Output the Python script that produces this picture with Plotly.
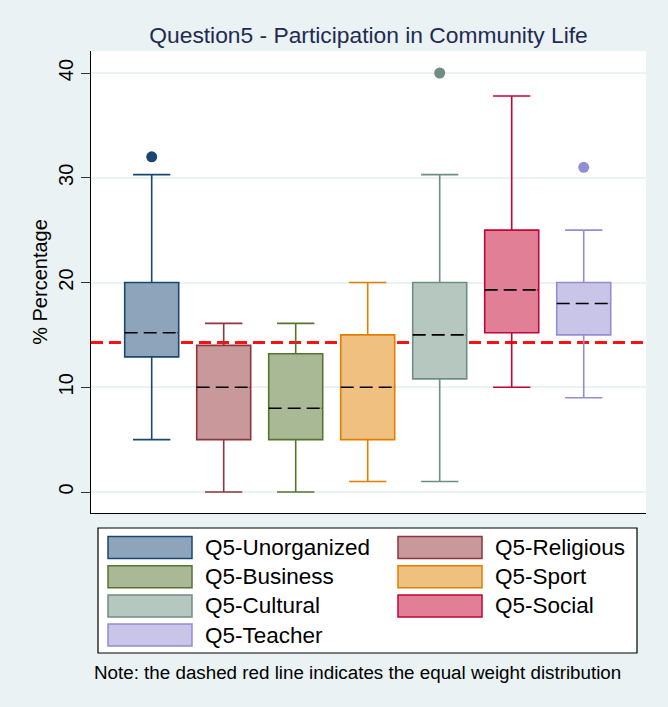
import plotly.graph_objects as go

# ---------------- data ----------------
categories = ["Q5-Unorganized", "Q5-Religious", "Q5-Business", "Q5-Sport",
              "Q5-Cultural", "Q5-Social", "Q5-Teacher"]
q1 = [12.9, 5.0, 5.0, 5.0, 10.8, 15.2, 15.0]
median = [15.2, 10.0, 8.0, 10.0, 15.0, 19.3, 18.0]
q3 = [20.0, 14.0, 13.2, 15.0, 20.0, 25.0, 20.0]
lower_whisker = [5.0, 0.0, 0.0, 1.0, 1.0, 10.0, 9.0]
upper_whisker = [30.3, 16.1, 16.1, 20.0, 30.3, 37.8, 25.0]
outliers = [[32.0], [], [], [], [40.0], [], [31.0]]
equal_weight = 100 / 7
y_ticks = [0, 10, 20, 30, 40]

title_text = "Question5 - Participation in Community Life"
y_title = "% Percentage"
note_text = "Note: the dashed red line indicates the equal weight distribution"

# ---------------- styles ----------------
line_colors = ["#1A476F", "#90353B", "#55752F", "#E37E00", "#6E8E84", "#C10534", "#938DD2"]
fill_colors = ["#8EA4BA", "#C8989B", "#AAB995", "#F0C080", "#B6C7C0", "#E17F96", "#C9C5E8"]
BG = "#EAF2F3"
FONT = "Liberation Sans, Arial, sans-serif"
W, H = 668, 707
ML, MR, MT, MB = 91, 22, 51, 194
box_width = 0.75
half = box_width / 2

fig = go.Figure()

for i, cat in enumerate(categories):
    fig.add_trace(go.Box(
        x=[i], q1=[q1[i]], median=[median[i]], q3=[q3[i]],
        lowerfence=[lower_whisker[i]], upperfence=[upper_whisker[i]],
        name=cat, width=box_width, whiskerwidth=0.69,
        fillcolor=fill_colors[i], line=dict(color=line_colors[i], width=1.6),
        boxpoints=False, showlegend=False, hoverinfo="skip",
    ))
    # cover the solid median, then draw the dashed black median
    fig.add_trace(go.Scatter(
        x=[i - half * 0.94, i + half * 0.94], y=[median[i], median[i]],
        mode="lines", line=dict(color=fill_colors[i], width=3),
        showlegend=False, hoverinfo="skip"))
    fig.add_trace(go.Scatter(
        x=[i - half, i + half], y=[median[i], median[i]],
        mode="lines", line=dict(color="black", width=1.6, dash="13px,6px"),
        showlegend=False, hoverinfo="skip"))
    if outliers[i]:
        fig.add_trace(go.Scatter(
            x=[i] * len(outliers[i]), y=outliers[i], mode="markers",
            marker=dict(color=line_colors[i], size=11, line=dict(width=0)),
            showlegend=False, hoverinfo="skip"))

# equal weight reference line
fig.add_shape(type="line", xref="paper", x0=0, x1=1, yref="y",
              y0=equal_weight, y1=equal_weight, layer="between",
              line=dict(color="#FF1010", width=3, dash="12px,6px"))

pw = W - ML - MR
ph = H - MT - MB


def px(p):
    return (p - ML) / pw


def py(p):
    return (H - MB - p) / ph


# manual legend (Stata style)
fig.add_shape(type="rect", xref="paper", yref="paper",
              x0=px(98), x1=px(637), y0=py(528), y1=py(653),
              line=dict(color="black", width=1.2), fillcolor="white", layer="above")
col_x = [108, 398]
for k, cat in enumerate(categories):
    r, c = divmod(k, 2)
    cy = 547.5 + 29.2 * r
    x0 = col_x[c]
    fig.add_shape(type="rect", xref="paper", yref="paper",
                  x0=px(x0), x1=px(x0 + 84), y0=py(cy + 11), y1=py(cy - 11),
                  line=dict(color=line_colors[k], width=1.5),
                  fillcolor=fill_colors[k], layer="above")
    fig.add_annotation(xref="paper", yref="paper", x=px(x0 + 95), y=py(cy),
                       text=cat, showarrow=False, xanchor="left", yanchor="middle",
                       font=dict(family=FONT, size=22.5, color="black"))

fig.add_annotation(xref="paper", yref="paper", x=px(92), y=py(672),
                   text=note_text, showarrow=False, xanchor="left", yanchor="middle",
                   font=dict(family=FONT, size=18.8, color="black"))

fig.update_layout(
    width=W, height=H,
    margin=dict(l=ML, r=MR, t=MT, b=MB, autoexpand=False),
    paper_bgcolor=BG, plot_bgcolor="white",
    font=dict(family=FONT, color="black"),
    boxmode="overlay",
    title=dict(text=title_text, x=0.5, xref="paper", xanchor="center",
               y=1 - 35 / H, yref="container", yanchor="middle",
               font=dict(family=FONT, size=22.8, color="#1E2B52")),
    xaxis=dict(range=[-0.843, 6.865], showticklabels=False, ticks="",
               showgrid=False, zeroline=False, showline=True,
               linecolor="black", linewidth=1.2, mirror=False),
    yaxis=dict(range=[-2.0, 42.1], tickvals=y_ticks, ticks="outside",
               ticklen=9, tickwidth=1.2, tickcolor="#333333",
               tickangle=-90, tickfont=dict(family=FONT, size=20, color="black"),
               showgrid=True, gridcolor=BG, gridwidth=1.5, zeroline=False,
               showline=True, linecolor="black", linewidth=1.2,
               title=dict(text=y_title, standoff=1,
                          font=dict(family=FONT, size=20, color="black"))),
)

fig.write_html("out.html", config={"displayModeBar": False},
               post_script="document.body.style.margin='0';")
